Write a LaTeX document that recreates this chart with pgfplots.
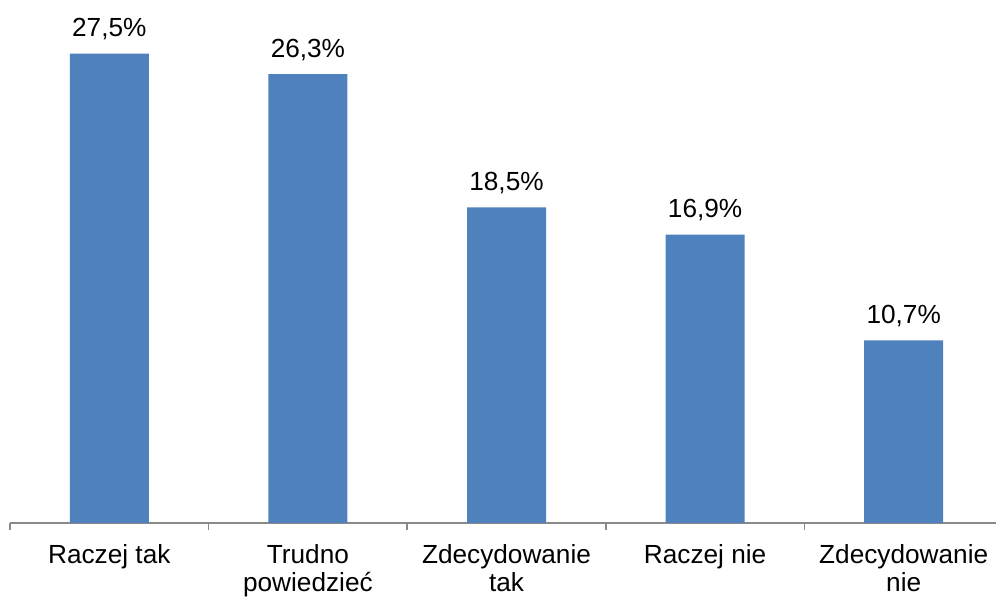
\documentclass[border=0pt]{standalone}
\usepackage{pgfplots}
\pgfplotsset{compat=1.18}
\usepackage{fontspec}
\setmainfont{Liberation Sans}
\definecolor{barblue}{HTML}{4F81BD}
\definecolor{axgray}{HTML}{898989}
\begin{document}
\begin{tikzpicture}[x=1pt,y=1pt]
\path[use as bounding box] (0,0) rectangle (498,299);
\begin{axis}[
  at={(5pt,37.5pt)}, anchor=south west,
  scale only axis, width=496.5pt, height=256pt,
  xmin=-0.5, xmax=4.5, ymin=0, ymax=30,
  hide y axis,
  axis x line*=bottom,
  x axis line style={axgray, -, line width=0.8pt},
  xtick={0,1,2,3,4},
  xticklabels={Raczej tak,{Trudno\\powiedzieć},{Zdecydowanie\\tak},Raczej nie,{Zdecydowanie\\nie}},
  major tick length=0pt,
  extra x ticks={-0.5,0.5,1.5,2.5,3.5,4.5},
  extra x tick labels={},
  extra x tick style={tick align=outside, major tick length=3.5pt, tick style={axgray, line width=0.8pt}},
  xticklabel style={font=\fontsize{13.1}{14}\selectfont, align=center, anchor=north, inner sep=0pt, yshift=-10.8pt},
  ybar, bar width=39.5pt,
  nodes near coords={\pgfmathprintnumber[fixed,fixed zerofill,precision=1,use comma,assume math mode=true]{\pgfplotspointmeta}\%},
  every node near coord/.append style={font=\fontsize{13.1}{14}\selectfont, anchor=base, inner sep=0pt, yshift=8.5pt, text=black},
  clip=false,
]
\addplot[fill=barblue, draw=none] coordinates {(0,27.5) (1,26.3) (2,18.5) (3,16.9) (4,10.7)};
\end{axis}
\end{tikzpicture}
\end{document}
